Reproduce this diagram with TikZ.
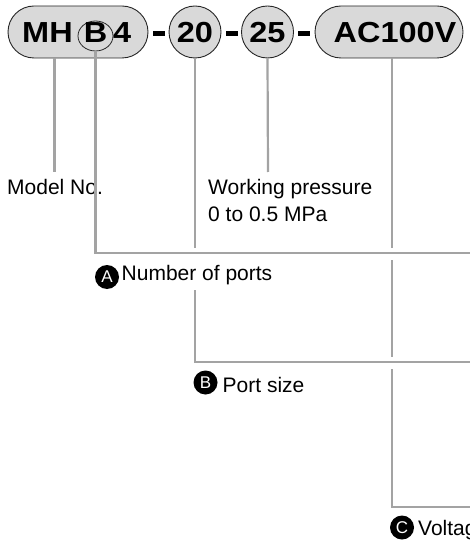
\documentclass[tikz,border=0pt]{standalone}
\usepackage{fontspec}
\setmainfont{Liberation Sans}
\newfontfamily\boldfnt[FakeStretch=1.12]{Liberation Sans Bold}
\usetikzlibrary{shapes.misc,shapes.geometric}
\definecolor{linegray}{RGB}{163,163,163}
\definecolor{pillgray}{RGB}{217,217,217}
\begin{document}
\begin{tikzpicture}[x=1pt,y=-1pt,
  pill/.style={draw=black!85, line width=0.9pt, fill=pillgray, rounded rectangle, minimum height=52pt, inner sep=0},
  disc/.style={draw=black!85, line width=0.9pt, fill=pillgray, circle, minimum size=52pt, inner sep=0},
  big/.style={font=\boldfnt\fontsize{29}{29}\selectfont, inner sep=0},
  lbl/.style={font=\fontsize{21}{27}\selectfont, inner sep=0, anchor=base west},
  conn/.style={draw=linegray, line width=2.2pt},
  badge/.style={circle, fill=black, text=white, minimum size=24pt, inner sep=0, font=\fontsize{17}{17}\selectfont},
  dashbar/.style={fill=black, minimum width=12pt, minimum height=5pt, inner sep=0}
]
\path[use as bounding box, clip] (0,0) rectangle (470,545);

% top code boxes
\node[pill, minimum width=140pt] (p1) at (78,32) {};
\node[draw=black!85, line width=0.8pt, ellipse, minimum width=35pt, minimum height=30pt, inner sep=0] (bc) at (95.5,36) {};
\node[big, anchor=base west] (mh) at (22,43) {MH};
\node[big, anchor=base] (bl) at (95.5,43) {B};
\node[big, anchor=base west] (four) at (113,43) {4};
\node[dashbar] (d1) at (159,33.5) {};
\node[disc] (c20) at (195,32) {};
\node[big, anchor=base] (t20) at (195,43) {20};
\node[dashbar] (d2) at (231.5,33.5) {};
\node[disc] (c25) at (267.5,32) {};
\node[big, anchor=base] (t25) at (267.5,43) {25};
\node[dashbar] (d3) at (304,33.5) {};
\node[pill, minimum width=148pt] (p2) at (389,32) {};
\node[big, anchor=base] (tac) at (395,43) {AC100V};

% labels
\node[lbl] (model) at (7,195) {Model No.};
\node[lbl] (wp1) at (208,194) {Working pressure};
\node[lbl] (wp2) at (208,221) {0 to 0.5 MPa};
\node[badge] (ba) at (107,277) {A};
\node[lbl] (ports) at (121.5,280) {Number of ports};
\node[badge] (bb) at (205.5,382.5) {B};
\node[lbl] (size) at (222.5,392) {Port size};
\node[badge] (bcc) at (402,527.5) {C};
\node[lbl] (volt) at (418,535) {Voltage};

% connector coordinates
\coordinate (mnEnd) at (54.5,172);
\coordinate (wpEnd) at (268,172);
\coordinate (aCorner) at (95.5,253);
\coordinate (aEnd) at (480,253);
\coordinate (t20a) at (195,248);
\coordinate (t20b) at (195,290);
\coordinate (bCorner) at (195,362);
\coordinate (bEnd) at (480,362);
\coordinate (ac1) at (392,248);
\coordinate (ac2) at (392,260);
\coordinate (ac3) at (392,357);
\coordinate (ac4) at (392,369);
\coordinate (cCorner) at (392,507);
\coordinate (cEnd) at (480,507);

% connectors
\draw[conn] (p1.south -| mnEnd) -- (mnEnd);
\draw[conn] (bc.south) -- (aCorner) -- (aEnd);
\draw[conn] (c20.south) -- (t20a);
\draw[conn] (t20b) -- (bCorner) -- (bEnd);
\draw[conn] (c25.south) -- (wpEnd);
\draw[conn] (p2.south -| ac1) -- (ac1);
\draw[conn] (ac2) -- (ac3);
\draw[conn] (ac4) -- (cCorner) -- (cEnd);
\end{tikzpicture}
\end{document}
